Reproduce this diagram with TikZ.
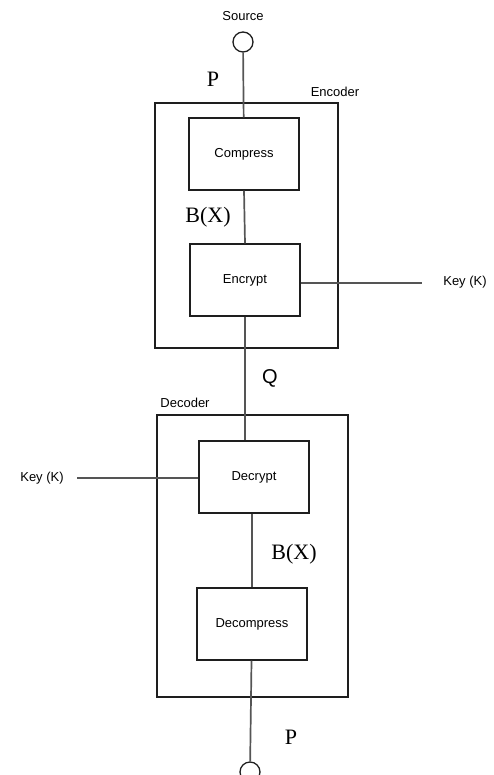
\documentclass[tikz,border=0pt]{standalone}
\usepackage{fontspec}
\setmainfont{Liberation Serif}
\setsansfont{Liberation Sans}
\usepackage{xcolor}
\definecolor{wire}{RGB}{85,85,85}
\definecolor{frame}{RGB}{30,30,30}
\usepackage{tikz}
\usetikzlibrary{positioning,calc}
\tikzset{
  block/.style={draw=frame,line width=1.3pt,minimum width=110pt,minimum height=72pt,%
    font=\sffamily\fontsize{13}{14}\selectfont,inner sep=2pt,align=center},
  port/.style={draw=frame,circle,line width=1.3pt,minimum size=20pt,inner sep=0pt},
  unit/.style={draw=frame,line width=1.3pt},
  wire/.style={draw=wire,line width=1.7pt},
  tag/.style={font=\sffamily\fontsize{13}{14}\selectfont,inner sep=1pt},
  sym/.style={font=\fontsize{22}{24}\selectfont,inner sep=1pt},
}

\begin{document}
\begin{tikzpicture}[x=1pt,y=-1pt]
\useasboundingbox (0,0) rectangle (494,775);
% encoder and decoder frames
\draw[unit] (155,103) rectangle (338,348);
\draw[unit] (157,415) rectangle (348,697);
\node[tag] (enc) at (335,92) {Encoder};
\node[tag] (dec) at (185,403) {Decoder};
% blocks
\node[port] (src) at (243,42) {};
\node[tag] (srclbl) at (243,16) {Source};
\node[block] (comp) at (244,154) {Compress};
\node[block] (encr) at (245,280) {Encrypt};
\node[block] (decr) at (254,477) {Decrypt};
\node[block] (deco) at (252,624) {Decompress};
\node[port] (sink) at (250,772) {};
% keys
\node[tag] (keyr) at (465,282) {Key (K)};
\node[tag] (keyl) at (42,478) {Key (K)};
\coordinate (kr) at (422,283);
\coordinate (kl) at (77,478);
% labels on the wires
\node[sym] (p1) at (213,79) {P};
\node[sym] (bx1) at (208,217) {B(X)};
\node[sym,font=\sffamily\fontsize{20}{22}\selectfont] (q) at (270,378) {Q};
\node[sym] (bx2) at (294,554) {B(X)};
\node[sym] (p2) at (291,737) {P};
% wires
\draw[wire] (src) -- (comp);
\draw[wire] (comp.south) -- (encr.north);
\draw[wire] (encr.south) -- (decr.north -| encr.south);
\draw[wire] (decr.south -| deco.north) -- (deco.north);
\draw[wire] (deco) -- (sink);
\draw[wire] (encr.east |- kr) -- (kr);
\draw[wire] (kl) -- (decr.west |- kl);
\end{tikzpicture}
\end{document}
